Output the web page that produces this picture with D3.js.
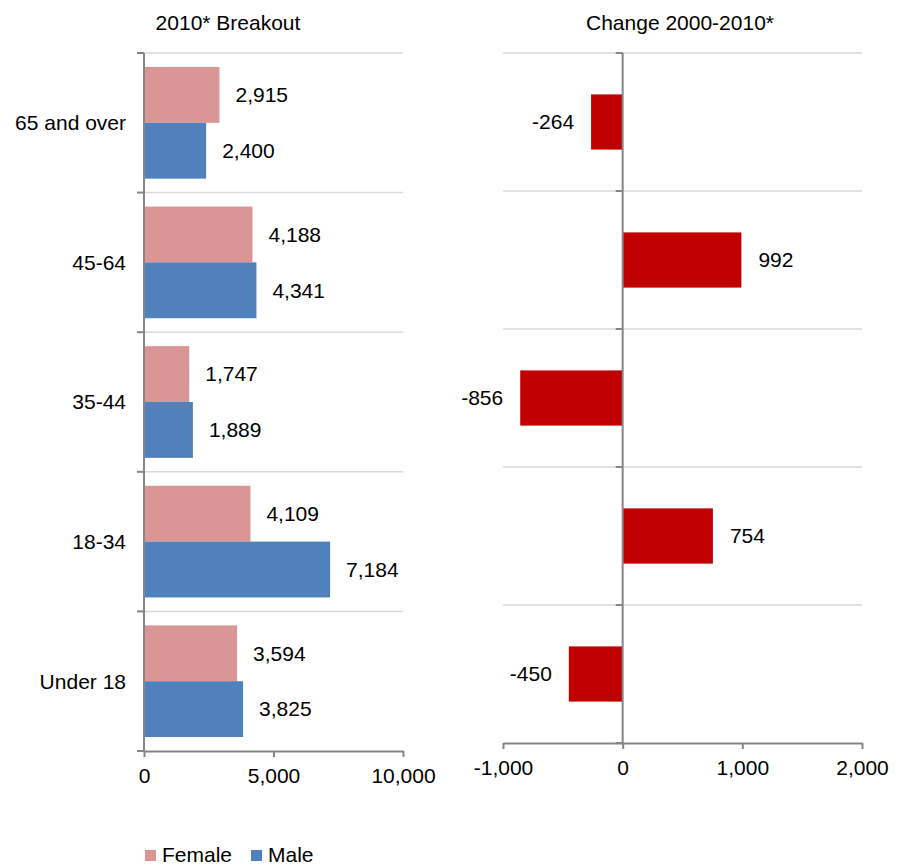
<!DOCTYPE html>
<html>
<head>
<meta charset="utf-8">
<script src="https://cdn.jsdelivr.net/npm/d3@7"></script>
<style>
  html, body { margin: 0; padding: 0; background: #fff; }
  svg { display: block; font-family: "Liberation Sans", Arial, sans-serif; }
</style>
</head>
<body>
<svg id="chart" width="902" height="865"></svg>
<script>
// ---- Data ----
const categories = ["65 and over", "45-64", "35-44", "18-34", "Under 18"];
const seriesNames = ["Female", "Male"];
const female = [2915, 4188, 1747, 4109, 3594];
const male = [2400, 4341, 1889, 7184, 3825];
const change = [-264, 992, -856, 754, -450];
const leftTicks = [0, 5000, 10000];
const rightTicks = [-1000, 0, 1000, 2000];
const leftTitle = "2010* Breakout";
const rightTitle = "Change 2000-2010*";

// ---- Style ----
const colors = { Female: "#D99694", Male: "#4F81BD" };
const changeColor = "#C00000";
const axisColor = "#868686";
const gridColor = "#D9D9D9";
const fs = 21;
const fmt = v => d3.format(",")(v).replace("\u2212", "-");

const svg = d3.select("#chart");

function drawPanel(opts) {
  const g = svg.append("g");
  const x = d3.scaleLinear().domain(opts.domain).range(opts.xRange);
  const y = d3.scaleBand().domain(categories).range(opts.yRange)
    .paddingInner(opts.pInner).paddingOuter(opts.pOuter);
  const half = y.step() * opts.pOuter;
  const boundaries = categories.map(c => y(c) - half).concat([opts.yRange[1]]);

  // gridlines (not at the bottom axis)
  g.selectAll("line.grid").data(boundaries.slice(0, -1)).join("line")
    .attr("x1", opts.xRange[0]).attr("x2", opts.xRange[1])
    .attr("y1", d => d).attr("y2", d => d)
    .attr("stroke", gridColor).attr("stroke-width", 1.5);

  // bars
  opts.drawBars(g, x, y);

  // vertical category axis at zero
  const x0 = x(0);
  g.append("line").attr("x1", x0).attr("x2", x0)
    .attr("y1", opts.yRange[0]).attr("y2", opts.yRange[1])
    .attr("stroke", axisColor).attr("stroke-width", 2);
  g.selectAll("line.ctick").data(boundaries).join("line")
    .attr("x1", x0 - 7).attr("x2", x0)
    .attr("y1", d => d).attr("y2", d => d)
    .attr("stroke", axisColor).attr("stroke-width", 2);

  // bottom value axis
  const ax = d3.axisBottom(x).tickValues(opts.ticks).tickSize(6).tickSizeOuter(0)
    .tickPadding(11).tickFormat(fmt);
  const axG = g.append("g").attr("transform", `translate(0,${opts.yRange[1]})`).call(ax);
  axG.select(".domain").attr("stroke", axisColor).attr("stroke-width", 2);
  axG.selectAll(".tick line").attr("stroke", axisColor).attr("stroke-width", 2);
  axG.selectAll(".tick text").attr("fill", "#000").style("font-size", fs + "px")
    .style("font-family", "'Liberation Sans', Arial, sans-serif");

  // title
  svg.append("text").attr("x", opts.titleX).attr("y", 30).attr("text-anchor", "middle")
    .attr("fill", "#000").style("font-size", fs + "px").text(opts.title);
  return { x, y };
}

// Left panel
drawPanel({
  domain: [0, 10000], xRange: [144, 403], yRange: [53, 751],
  pInner: 0.2, pOuter: 0.1, ticks: leftTicks, title: leftTitle, titleX: 228,
  drawBars: (g, x, y) => {
    const ys = d3.scaleBand().domain(seriesNames).range([0, y.bandwidth()]);
    const rows = categories.map((c, i) => ({ c, Female: female[i], Male: male[i] }));
    seriesNames.forEach(s => {
      g.selectAll(null).data(rows).join("rect")
        .attr("x", x(0)).attr("y", d => y(d.c) + ys(s))
        .attr("width", d => x(d[s]) - x(0)).attr("height", ys.bandwidth())
        .attr("fill", colors[s]);
      g.selectAll(null).data(rows).join("text")
        .attr("x", d => x(d[s]) + 16).attr("y", d => y(d.c) + ys(s) + ys.bandwidth() / 2)
        .attr("dy", "0.35em").attr("fill", "#000").style("font-size", fs + "px")
        .text(d => fmt(d[s]));
    });
    // category labels
    g.selectAll(null).data(categories).join("text")
      .attr("x", 126).attr("y", d => y(d) + y.bandwidth() / 2).attr("dy", "0.35em")
      .attr("text-anchor", "end").attr("fill", "#000").style("font-size", fs + "px")
      .text(d => d);
  }
});

// Right panel
drawPanel({
  domain: [-1000, 2000], xRange: [503, 862], yRange: [53, 743],
  pInner: 0.6, pOuter: 0.3, ticks: rightTicks, title: rightTitle, titleX: 680,
  drawBars: (g, x, y) => {
    const rows = categories.map((c, i) => ({ c, v: change[i] }));
    g.selectAll(null).data(rows).join("rect")
      .attr("x", d => x(Math.min(0, d.v))).attr("y", d => y(d.c))
      .attr("width", d => Math.abs(x(d.v) - x(0))).attr("height", y.bandwidth())
      .attr("fill", changeColor);
    g.selectAll(null).data(rows).join("text")
      .attr("x", d => d.v < 0 ? x(d.v) - 17 : x(d.v) + 17)
      .attr("y", d => y(d.c) + y.bandwidth() / 2).attr("dy", "0.35em")
      .attr("text-anchor", d => d.v < 0 ? "end" : "start")
      .attr("fill", "#000").style("font-size", fs + "px")
      .text(d => fmt(d.v));
  }
});

// Legend
const legend = svg.append("g").attr("transform", "translate(145,850)");
const items = legend.selectAll("g").data(seriesNames).join("g")
  .attr("transform", (d, i) => `translate(${i * 106},0)`);
items.append("rect").attr("width", 11).attr("height", 11).attr("fill", d => colors[d]);
items.append("text").attr("x", 17).attr("y", 12).attr("fill", "#000")
  .style("font-size", fs + "px").text(d => d);
</script>
</body>
</html>
